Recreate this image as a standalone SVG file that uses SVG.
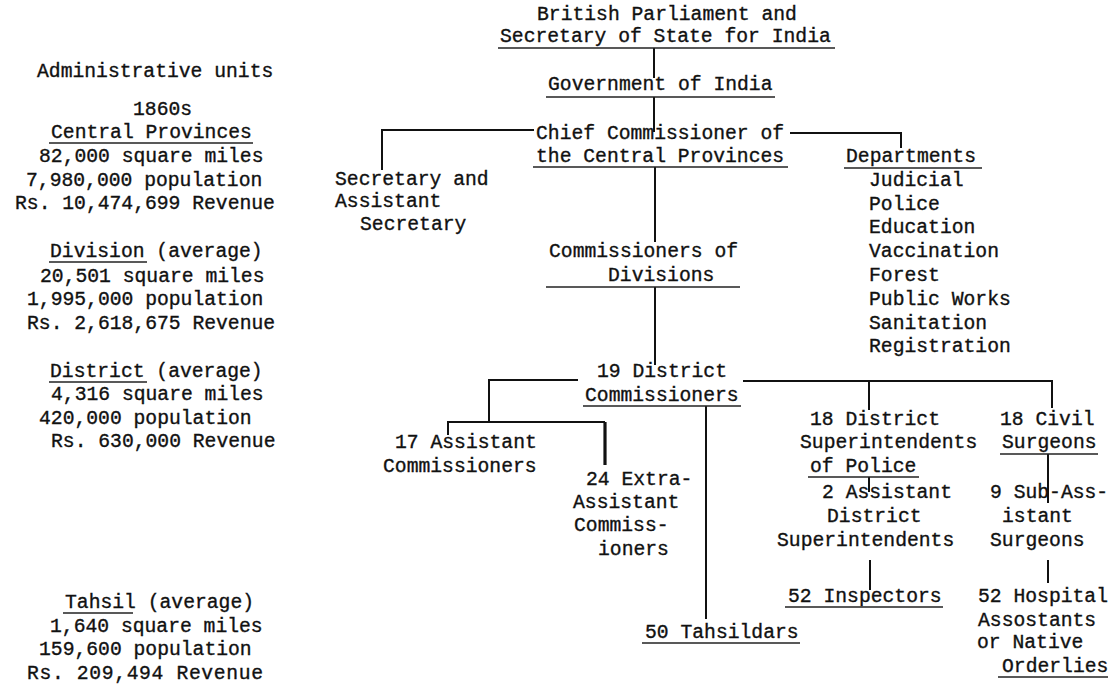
<svg xmlns="http://www.w3.org/2000/svg" width="1112" height="689" viewBox="0 0 1112 689">
<style>
text{font-family:"Liberation Mono","DejaVu Sans Mono",monospace;font-size:19.7px;fill:#111;stroke:#111;stroke-width:0.35}
.u{stroke:#222;stroke-width:1.5}
.c{stroke:#111;stroke-width:2;fill:none}
.ct{stroke:#111;stroke-width:3.2;fill:none}
</style>
<rect width="1112" height="689" fill="#fff"/>
<g id="legend">
<text x="37" y="77">Administrative units</text>
<text x="133" y="115">1860s</text>
<text x="51" y="138">Central Provinces</text><line class="u" x1="49" y1="143" x2="253" y2="143"/>
<text x="39" y="162">82,000 square miles</text>
<text x="26" y="186">7,980,000 population</text>
<text x="15" y="209">Rs. 10,474,699 Revenue</text>
<text x="50" y="257">Division (average)</text><line class="u" x1="49" y1="262" x2="147" y2="262"/>
<text x="40" y="282">20,501 square miles</text>
<text x="27" y="305">1,995,000 population</text>
<text x="27" y="329">Rs. 2,618,675 Revenue</text>
<text x="50" y="377">District (average)</text><line class="u" x1="49" y1="382" x2="147" y2="382"/>
<text x="51" y="400">4,316 square miles</text>
<text x="39" y="424">420,000 population</text>
<text x="51" y="447">Rs. 630,000 Revenue</text>
<text x="65" y="608">Tahsil (average)</text><line class="u" x1="63" y1="613" x2="133" y2="613"/>
<text x="50" y="632">1,640 square miles</text>
<text x="39" y="655">159,600 population</text>
<text x="27" y="679" textLength="236">Rs. 209,494 Revenue</text>
</g>
<g id="connectors">
<path class="c" d="M654 48V78M654 97V132"/>
<path class="c" d="M534 130H382V170"/>
<path class="c" d="M790 133H901V148"/>
<path class="c" d="M655 167V242M655 287V365"/>
<path class="c" d="M578 380H489V423"/>
<path class="c" d="M448 435V422H605"/>
<path class="ct" d="M605 422V465"/>
<path class="c" d="M706 406V619"/>
<path class="c" d="M743 381H1052V408M869 381V410"/>
<path class="c" d="M869 477V492M870 560V590"/>
<path class="c" d="M1048 454V503M1048 560V583"/>
</g>
<g id="parliament">
<text x="537" y="20">British Parliament and</text>
<text x="500" y="42">Secretary of State for India</text><line class="u" x1="498" y1="48" x2="835" y2="48"/>
</g>
<g id="government">
<text x="548" y="90">Government of India</text><line class="u" x1="546" y1="97" x2="775" y2="97"/>
</g>
<g id="chief-commissioner">
<text x="536" y="139">Chief Commissioner of</text>
<text x="536" y="162">the Central Provinces</text><line class="u" x1="533" y1="167" x2="788" y2="167"/>
</g>
<g id="secretary">
<text x="335" y="185">Secretary and</text>
<text x="335" y="207">Assistant</text>
<text x="360" y="230">Secretary</text>
</g>
<g id="departments">
<text x="846" y="162">Departments</text><line class="u" x1="844" y1="168" x2="982" y2="168"/>
<text x="869" y="186">Judicial</text>
<text x="869" y="210">Police</text>
<text x="869" y="233">Education</text>
<text x="869" y="257">Vaccination</text>
<text x="869" y="281">Forest</text>
<text x="869" y="305">Public Works</text>
<text x="869" y="329">Sanitation</text>
<text x="869" y="352">Registration</text>
</g>
<g id="commissioners-divisions">
<text x="549" y="257">Commissioners of</text>
<text x="608" y="281">Divisions</text><line class="u" x1="546" y1="287" x2="740" y2="287"/>
</g>
<g id="district-commissioners">
<text x="597" y="377">19 District</text>
<text x="585" y="401">Commissioners</text><line class="u" x1="583" y1="406" x2="741" y2="406"/>
</g>
<g id="assistant-commissioners">
<text x="395" y="448">17 Assistant</text>
<text x="383" y="472">Commissioners</text>
</g>
<g id="extra-assistant">
<text x="586" y="485">24 Extra-</text>
<text x="573" y="508">Assistant</text>
<text x="574" y="531">Commiss-</text>
<text x="598" y="555">ioners</text>
</g>
<g id="tahsildars">
<text x="645" y="638">50 Tahsildars</text><line class="u" x1="642" y1="643" x2="800" y2="643"/>
</g>
<g id="superintendents">
<text x="810" y="425">18 District</text>
<text x="800" y="448">Superintendents</text>
<text x="810" y="472">of Police</text><line class="u" x1="808" y1="477" x2="919" y2="477"/>
</g>
<g id="asst-superintendents">
<text x="822" y="498">2 Assistant</text>
<text x="827" y="522">District</text>
<text x="777" y="546">Superintendents</text>
</g>
<g id="inspectors">
<text x="788" y="602">52 Inspectors</text><line class="u" x1="785" y1="607" x2="943" y2="607"/>
</g>
<g id="civil-surgeons">
<text x="1000" y="425">18 Civil</text>
<text x="1002" y="448">Surgeons</text><line class="u" x1="1000" y1="454" x2="1098" y2="454"/>
</g>
<g id="sub-assistant-surgeons">
<text x="990" y="498">9 Sub-Ass-</text>
<text x="1002" y="522">istant</text>
<text x="990" y="546">Surgeons</text>
</g>
<g id="hospital-assistants">
<text x="978" y="602">52 Hospital</text>
<text x="978" y="626">Assostants</text>
<text x="977" y="648">or Native</text>
<text x="1002" y="672">Orderlies</text><line class="u" x1="998" y1="677" x2="1108" y2="677"/>
</g>
</svg>
